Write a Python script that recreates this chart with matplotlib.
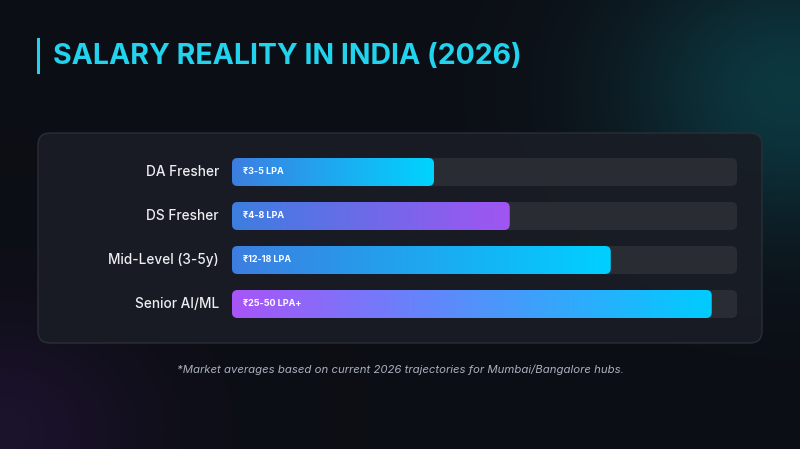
import numpy as np
import matplotlib
matplotlib.use("Agg")
from matplotlib import pyplot as plt
from matplotlib.patches import FancyBboxPatch, Rectangle
from matplotlib.colors import LinearSegmentedColormap

plt.rcParams['font.family'] = ['Inter', 'DejaVu Sans']

# data
roles = ["DA Fresher", "DS Fresher", "Mid-Level (3-5y)", "Senior AI/ML"]
fill_pct = [40, 55, 75, 95]
bar_labels = ["₹3-5 LPA", "₹4-8 LPA", "₹12-18 LPA", "₹25-50 LPA+"]
grad_colors = [("#3d7ee0", "#00d4ff"),
               ("#3d7ee0", "#a155f2"),
               ("#3d7ee0", "#00d0ff"),
               ("#a855f7", "#00ccff")]
title = "SALARY REALITY IN INDIA (2026)"
note = "*Market averages based on current 2026 trajectories for Mumbai/Bangalore hubs."

W, H = 800, 449
fig = plt.figure(figsize=(W / 100, H / 100), dpi=100)
fig.patch.set_facecolor("#0c0e15")

# background in pixel coordinates
bg = fig.add_axes([0, 0, 1, 1])
bg.set_xlim(0, W)
bg.set_ylim(H, 0)
bg.axis("off")

yy, xx = np.mgrid[0:H, 0:W]
base = np.array([0.047, 0.055, 0.082])
teal = np.array([0.05, 0.38, 0.42])
purp = np.array([0.30, 0.12, 0.45])
g1 = np.exp(-(((xx - 790) / 170.0) ** 2 + ((yy - 90) / 140.0) ** 2))[..., None]
g2 = np.exp(-(((xx - 0) / 140.0) ** 2 + ((yy - 430) / 110.0) ** 2))[..., None]
img = base + (teal - base) * g1 * 0.5 + (purp - base) * g2 * 0.25
bg.imshow(np.clip(img, 0, 1), extent=[0, W, H, 0], aspect="auto", zorder=0)

# panel
panel = FancyBboxPatch((38, 133), 724, 210, boxstyle="round,pad=0,rounding_size=12",
                       facecolor="#1a1d25", edgecolor="#2c3039", linewidth=1.0,
                       alpha=0.92, zorder=1)
bg.add_patch(panel)

# title with accent bar
bg.add_patch(Rectangle((36.5, 38), 3, 36, facecolor="#22d3ee", edgecolor="none", zorder=2))
bg.text(53, 56, title, color="#22d3ee", fontsize=20.5, fontweight="bold",
        va="center", ha="left", zorder=3)

bg.text(400, 370, note, color="#aab0bc", fontsize=8.2, style="italic",
        ha="center", va="center", zorder=3)

# bars axes
x0, x1 = 232, 737
ax = fig.add_axes([x0 / W, 1 - 326 / H, (x1 - x0) / W, (326 - 150) / H])
ax.set_xlim(0, 100)
ax.set_ylim(len(roles) - 0.5, -0.5)
ax.axis("off")

px_x = (x1 - x0) / 100.0
px_y = (326 - 150) / len(roles)
bh = 28 / px_y
aspect = px_x / px_y

for i, (role, pct, lab, (c0, c1)) in enumerate(zip(roles, fill_pct, bar_labels, grad_colors)):
    track = FancyBboxPatch((0, i - bh / 2), 100, bh, boxstyle="round,pad=0,rounding_size=1.1",
                           mutation_aspect=aspect, facecolor="#2a2c33", edgecolor="none", zorder=1)
    ax.add_patch(track)
    clip = FancyBboxPatch((0, i - bh / 2), pct, bh, boxstyle="round,pad=0,rounding_size=1.1",
                          mutation_aspect=aspect, facecolor="none", edgecolor="none")
    ax.add_patch(clip)
    cmap = LinearSegmentedColormap.from_list("g%d" % i, [c0, c1])
    im = ax.imshow(np.linspace(0, 1, 256)[None, :], cmap=cmap, aspect="auto",
                   extent=[0, pct, i + bh / 2, i - bh / 2], zorder=2)
    im.set_clip_path(clip)
    ax.text(2.2, i, lab, color="white", fontsize=6.5, fontweight="bold",
            va="center", ha="left", zorder=3)
    ax.text(-2.6, i, role, color="#eceef2", fontsize=9.8, fontweight="medium",
            va="center", ha="right", zorder=3, clip_on=False)

fig.savefig("out.png", dpi=100, facecolor=fig.get_facecolor())
